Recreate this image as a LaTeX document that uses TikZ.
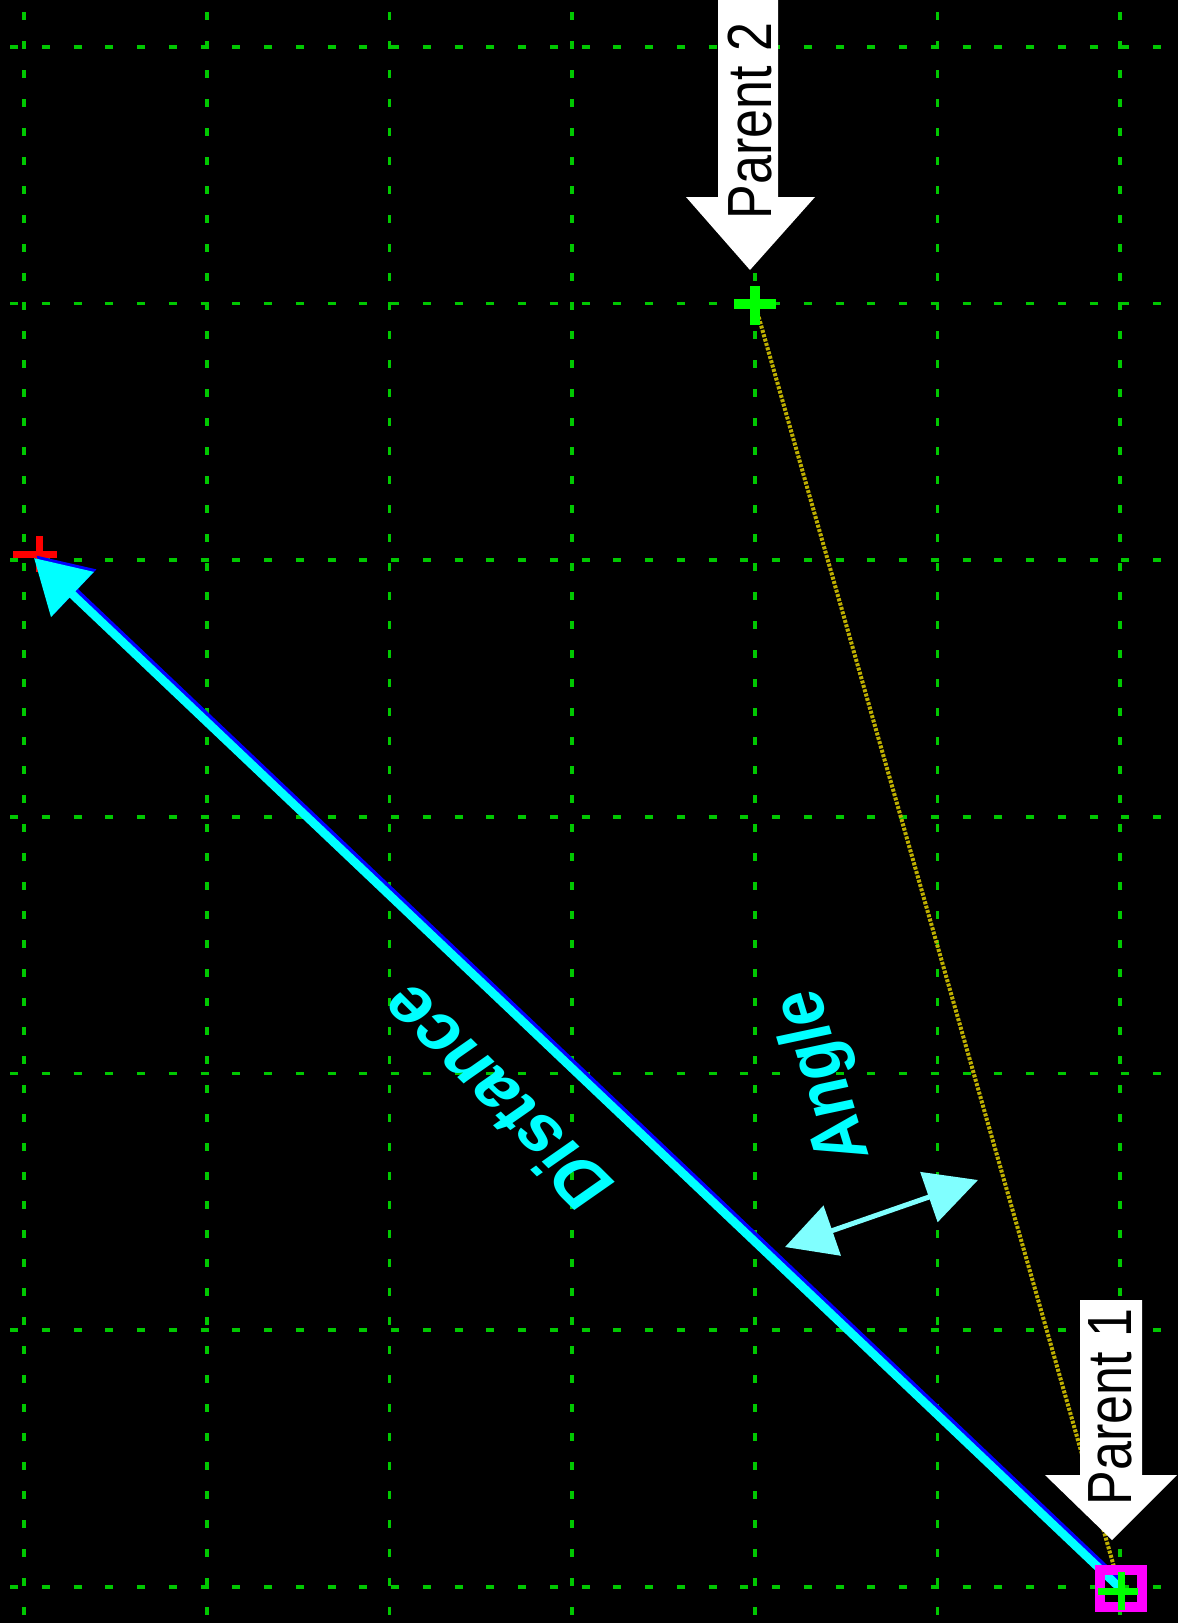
\documentclass[tikz,border=0pt]{standalone}
\usepackage{fontspec}
\setmainfont{Liberation Sans}
\usetikzlibrary{arrows.meta}
\definecolor{gridgreen}{RGB}{0,200,0}
\definecolor{crossgreen}{RGB}{0,255,0}
\definecolor{lineyellow}{RGB}{190,175,0}
\definecolor{distcyan}{RGB}{0,255,255}
\definecolor{anglecyan}{RGB}{128,255,255}
\definecolor{shadowblue}{RGB}{0,0,255}
\definecolor{boxmagenta}{RGB}{255,0,255}
\definecolor{crossred}{RGB}{255,0,0}
\begin{document}
\begin{tikzpicture}[x=1pt,y=-1pt,
  hgrid/.style={draw=gridgreen,line width=3.6pt,dash pattern=on 8pt off 23.75pt,dash phase=21.75pt},
  vgrid/.style={draw=gridgreen,line width=3.6pt,dash pattern=on 7.5pt off 21.5pt,dash phase=17pt},
  yline/.style={draw=lineyellow,line width=4pt,dash pattern=on 3pt off 1.5pt},
  crossbar/.style={line width=#1,line cap=butt},
  parentarrow/.style={fill=white,draw=none},
  ptext/.style={inner sep=0pt,rotate=90,font=\fontsize{52}{52}\selectfont,text=black},
  lbl/.style={inner sep=0pt,font=\fontsize{64}{64}\selectfont\bfseries,text=distcyan,transform shape},
  distarrow/.style={line width=8.5pt,-{Triangle[length=53pt,width=60pt]}},
  anglearrow/.style={draw=anglecyan,line width=5pt,{Triangle[length=50pt,width=52pt]}-{Triangle[length=52pt,width=52pt]}}
]
\fill[black] (0,0) rectangle (1178,1623);
\useasboundingbox (0,0) rectangle (1178,1623);
% grid
\foreach \y in {46.7,303.3,560,816.7,1073.3,1330,1586.7}
  \draw[hgrid] (0,\y) -- (1178,\y);
\foreach \x in {24,206.7,389.3,572,754.7,937.3,1120}
  \draw[vgrid] (\x,0) -- (\x,1623);
% points
\coordinate (p1) at (1120,1588);
\coordinate (p2) at (755,304);
\coordinate (red) at (39,554);
\coordinate (tip) at (34,558);
\coordinate (angA) at (785,1247);
\coordinate (angB) at (978,1180);
% yellow line
\draw[yline] (p2) -- (p1);
% red cross
\draw[crossred,crossbar=7pt] ([xshift=-26pt]red) -- ([xshift=18pt]red);
\draw[crossred,crossbar=7pt] ([yshift=18pt]red) -- ([yshift=-18pt]red);
% distance arrow with blue shadow
\draw[distarrow,draw=shadowblue,fill=shadowblue] ([shift={(2.5,-2.5)}]p1) -- ([shift={(2.5,-2.5)}]tip);
\draw[distarrow,draw=distcyan,fill=distcyan] (p1) -- (tip);
% angle arrow
\draw[anglearrow,fill=anglecyan] (angA) -- (angB);
% parent 2 cross
\draw[crossgreen,crossbar=10pt] ([xshift=-21pt]p2) -- ([xshift=21pt]p2);
\draw[crossgreen,crossbar=10pt] ([yshift=18pt]p2) -- ([yshift=-21pt]p2);
% parent 1 marker
\draw[boxmagenta,line width=10pt] (1100,1570) rectangle (1142,1607);
\draw[crossgreen,crossbar=7pt] (1098,1591) -- (1138,1591);
\draw[crossgreen,crossbar=7pt] (1121,1572) -- (1121,1610);
% parent arrows
\fill[parentarrow] (718,-5) -- (778,-5) -- (778,197) -- (815,197) -- (750,270) -- (686,197) -- (718,197) -- cycle;
\fill[parentarrow] (1080,1300) -- (1142,1300) -- (1142,1475) -- (1177,1475) -- (1112,1540) -- (1045,1475) -- (1080,1475) -- cycle;
\node[ptext] (t2) at (750,121) {\scalebox{1}[1.2]{Parent 2}};
\node[ptext] (t1) at (1110,1407) {\scalebox{1}[1.2]{Parent 1}};
% labels
\begin{scope}[shift={(495,1098)},xscale=1.2]
  \node[lbl,rotate=130] (dist) at (0,0) {Distance};
\end{scope}
\begin{scope}[shift={(825,1076)},xscale=1.2]
  \node[lbl,rotate=104.3,font=\fontsize{63}{63}\selectfont\bfseries] (ang) at (0,0) {Angle};
\end{scope}
\end{tikzpicture}
\end{document}
